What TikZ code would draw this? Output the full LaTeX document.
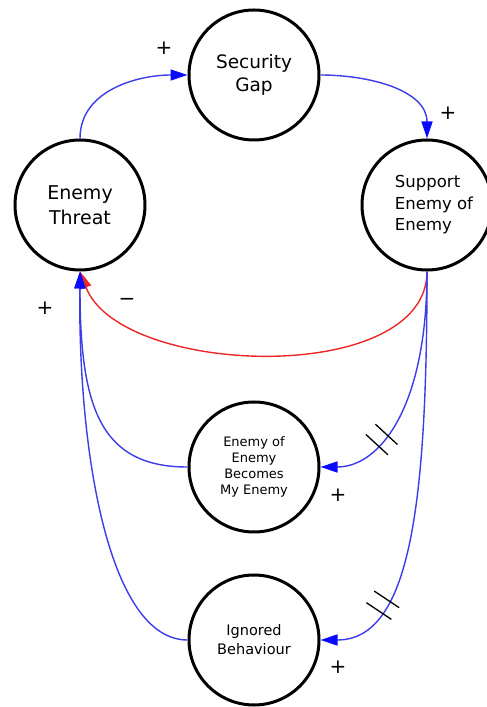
\documentclass[tikz,border=0pt]{standalone}
\usepackage{fontspec}
\setmainfont{DejaVu Sans}
\usetikzlibrary{arrows.meta,decorations.markings}
\definecolor{lnblue}{RGB}{60,60,235}
\definecolor{tipblue}{RGB}{10,10,255}
\definecolor{lnred}{RGB}{235,40,40}
\begin{document}
\begin{tikzpicture}[x=1pt,y=1pt,
  var/.style={circle,draw=black,line width=3pt,minimum size=130pt,inner sep=0pt,align=center},
  link/.style={lnblue,line width=1.4pt,-{Triangle[length=17pt,width=11pt,color=tipblue]}},
  neg/.style={lnred,line width=1.4pt,-{Triangle[length=17pt,width=11pt]}},
  sign/.style={font=\fontsize{20}{20}\selectfont,inner sep=0pt},
  delaymark/.style={postaction={decorate,decoration={markings,mark=at position #1 with {\draw[black,line width=1.3pt,-] (-7,-15)--(-7,15) (7,-15)--(7,15);}}}}
]
\useasboundingbox (0,0) rectangle (487,707);
\fill[white] (0,0) rectangle (487,707);

\node[var,font=\fontsize{18.5}{23}\selectfont] (sg) at (254,632) {Security\\Gap};
\node[var,font=\fontsize{19}{25}\selectfont] (et) at (80,502) {\raisebox{-4pt}{Enemy}\\\raisebox{-4pt}{Threat}};
\node[var,font=\fontsize{16.5}{21.5}\selectfont,align=left] (sup) at (427,502) {\hspace*{14pt}Support\\\hspace*{14pt}Enemy of\\\hspace*{14pt}Enemy};
\node[var,font=\fontsize{13}{16}\selectfont] (eoe) at (254,240) {Enemy of\\Enemy\\Becomes\\My Enemy};
\node[var,font=\fontsize{14.5}{19}\selectfont] (ib) at (254,67) {Ignored\\Behaviour};

\draw[link] (et.north) to[out=90,in=180] (sg.west);
\draw[link] (sg.east) to[out=0,in=90] (sup.north);
\draw[neg] (sup.south) .. controls (427,320) and (120,330) .. (et.south);
\draw[link] (eoe.west) .. controls (100,240) and (80,300) .. (et.south);
\draw[link] (ib.west) .. controls (110,67) and (78,250) .. (et.south);
\draw[link,delaymark=0.72] (sup.south) .. controls (427,300) and (380,240) .. (eoe.east);
\draw[link,delaymark=0.82] (sup.south) .. controls (427,200) and (410,67) .. (ib.east);

\node[sign] (p1) at (164,659) {+};
\node[sign] (p2) at (448,594) {+};
\node[sign] (m1) at (127,405) {−};
\node[sign] (p3) at (45,399) {+};
\node[sign] (p4) at (338,212) {+};
\node[sign] (p5) at (338,40) {+};
\end{tikzpicture}
\end{document}
